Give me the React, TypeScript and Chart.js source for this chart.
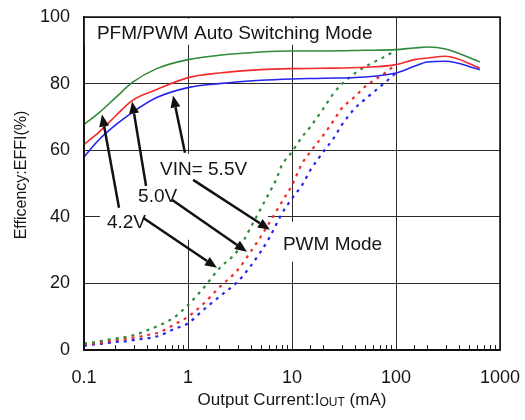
import React, { useEffect, useRef } from "react";
import { Chart, registerables } from "chart.js";

Chart.register(...registerables);

// ---- data ----
const xTickLabels = ["0.1", "1", "10", "100", "1000"];
const yTickLabels = ["0", "20", "40", "60", "80", "100"];

// PFM/PWM auto switching (solid)
const autoCurrent = [0.1, 0.14, 0.2, 0.29, 0.5, 1, 2, 5, 10, 20, 50, 100, 150, 200, 300, 640];
const autoEff42 = [67.7, 71.3, 75.7, 80.3, 84.5, 87.2, 88.5, 89.5, 89.8, 89.8, 90.0, 90.2, 90.7, 91.0, 90.4, 86.5];
const autoEff50 = [61.7, 65.5, 70.2, 74.9, 78.2, 81.8, 83.2, 84.2, 84.5, 84.6, 84.9, 85.7, 87.2, 87.7, 88.2, 84.7];
const autoEff55 = [58.0, 63.2, 67.5, 71.3, 75.8, 78.8, 80.0, 81.0, 81.4, 81.6, 82.0, 83.2, 85.2, 86.5, 86.7, 84.2];

// PWM mode (dotted)
const pwmCurrent = [0.1, 0.13, 0.16, 0.2, 0.26, 0.33, 0.41, 0.54, 0.75, 1, 1.4, 2, 3, 4, 5, 6, 7, 8, 10, 12.5, 15, 20, 25, 30, 40, 50, 60, 75, 100];
const pwmEff42 = [2.0, 2.4, 3.0, 3.4, 4.0, 4.8, 6.0, 7.5, 10.0, 13.5, 18.5, 24.5, 29.8, 36.8, 42.4, 47.0, 51.0, 55.5, 59.5, 64.0, 67.0, 72.5, 77.0, 79.8, 83.0, 85.0, 86.3, 87.8, 90.0];
const pwmEff50 = [1.8, 2.0, 2.5, 2.9, 3.4, 3.9, 4.5, 5.4, 7.8, 10.0, 13.8, 18.8, 24.0, 29.5, 34.0, 38.0, 41.5, 44.5, 49.5, 56.0, 59.5, 64.5, 68.8, 72.5, 76.0, 79.0, 80.8, 82.8, 85.7];
const pwmEff55 = [1.3, 1.7, 2.0, 2.4, 2.7, 3.2, 3.5, 4.4, 6.4, 8.0, 12.0, 16.0, 20.5, 25.2, 29.5, 33.5, 37.5, 41.0, 45.5, 49.5, 54.0, 59.5, 63.5, 67.5, 72.5, 75.2, 77.3, 79.8, 83.2];

// ---- annotations (data coordinates) ----
const whiteBoxes = [
  { x0: 0.101, x1: 87, y0: 99.5, y1: 91.7 },
  { x0: 0.1426, x1: 5.87, y0: 58.9, y1: 33.1 },
  { x0: 6.14, x1: 91, y0: 38.5, y1: 26.5 },
];
const labels = [
  { text: "PFM/PWM Auto Switching Mode", x: 0.133, y: 93.5 },
  { text: "VIN= 5.5V", x: 0.538, y: 52.6 },
  { text: "5.0V", x: 0.331, y: 44.5 },
  { text: "4.2V", x: 0.166, y: 36.7 },
  { text: "PWM Mode", x: 8.18, y: 30.1 },
];
const arrows = [
  { x0: 0.935, y0: 59.2, x1: 0.718, y1: 76.4 },
  { x0: 0.395, y0: 49.3, x1: 0.29, y1: 74.6 },
  { x0: 0.217, y0: 42.7, x1: 0.149, y1: 70.7 },
  { x0: 1.12, y0: 51.1, x1: 6.14, y1: 36.1 },
  { x0: 0.7, y0: 45.1, x1: 3.69, y1: 29.5 },
  { x0: 0.369, y0: 39.7, x1: 1.9, y1: 24.7 },
];

const FONT = "'Liberation Sans', Arial, sans-serif";
const GREEN = "#2f8a3a";
const RED = "#f22a2a";
const BLUE = "#2424ee";

const toXY = (xs: number[], ys: number[]) => xs.map((x, i) => ({ x, y: ys[i] }));
const isDecade = (v: number) => Math.abs(Math.log10(v) - Math.round(Math.log10(v))) < 1e-6;

const annotatePlugin = {
  id: "annotate",
  beforeDatasetsDraw(chart: any) {
    const { ctx, chartArea, scales } = chart;
    const x = scales.x;
    const y = scales.y;
    ctx.save();
    ctx.fillStyle = "#ffffff";
    for (const b of whiteBoxes) {
      const a = x.getPixelForValue(b.x0);
      const c = x.getPixelForValue(b.x1);
      const d = y.getPixelForValue(b.y0);
      const e = y.getPixelForValue(b.y1);
      ctx.fillRect(Math.min(a, c), Math.min(d, e), Math.abs(c - a), Math.abs(e - d));
    }
    // minor ticks inside bottom axis
    ctx.strokeStyle = "#222";
    ctx.lineWidth = 1;
    for (const t of x.ticks) {
      if (isDecade(t.value)) continue;
      const px = Math.round(x.getPixelForValue(t.value)) + 0.5;
      ctx.beginPath();
      ctx.moveTo(px, chartArea.bottom);
      ctx.lineTo(px, chartArea.bottom - 5);
      ctx.stroke();
    }
    ctx.restore();
  },
  afterDatasetsDraw(chart: any) {
    const { ctx, chartArea, scales } = chart;
    const x = scales.x;
    const y = scales.y;
    ctx.save();
    // labels
    ctx.fillStyle = "#151515";
    ctx.font = `19px ${FONT}`;
    ctx.textAlign = "left";
    ctx.textBaseline = "alphabetic";
    for (const l of labels) {
      ctx.fillText(l.text, x.getPixelForValue(l.x), y.getPixelForValue(l.y));
    }
    // arrows
    ctx.strokeStyle = "#111";
    ctx.fillStyle = "#111";
    ctx.lineWidth = 2.5;
    for (const a of arrows) {
      const sx = x.getPixelForValue(a.x0);
      const sy = y.getPixelForValue(a.y0);
      const ex = x.getPixelForValue(a.x1);
      const ey = y.getPixelForValue(a.y1);
      const ang = Math.atan2(ey - sy, ex - sx);
      const hl = 12;
      const hw = 5;
      const bx = ex - hl * Math.cos(ang);
      const by = ey - hl * Math.sin(ang);
      ctx.beginPath();
      ctx.moveTo(sx, sy);
      ctx.lineTo(bx, by);
      ctx.stroke();
      ctx.beginPath();
      ctx.moveTo(ex, ey);
      ctx.lineTo(bx + hw * Math.sin(ang), by - hw * Math.cos(ang));
      ctx.lineTo(bx - hw * Math.sin(ang), by + hw * Math.cos(ang));
      ctx.closePath();
      ctx.fill();
    }
    // frame
    ctx.strokeStyle = "#111";
    ctx.lineWidth = 1.5;
    ctx.strokeRect(chartArea.left, chartArea.top, chartArea.right - chartArea.left, chartArea.bottom - chartArea.top);
    ctx.restore();
  },
  afterDraw(chart: any) {
    const { ctx, chartArea } = chart;
    ctx.save();
    ctx.fillStyle = "#151515";
    ctx.textBaseline = "alphabetic";
    // x title with subscript OUT
    const p1 = "Output Current:I";
    const p2 = "OUT";
    const p3 = " (mA)";
    ctx.font = `17px ${FONT}`;
    const w1 = ctx.measureText(p1).width;
    const w3 = ctx.measureText(p3).width;
    ctx.font = `12px ${FONT}`;
    const w2 = ctx.measureText(p2).width;
    const total = w1 + w2 + w3;
    let cx = (chartArea.left + chartArea.right) / 2 - total / 2;
    const by = 405;
    ctx.font = `17px ${FONT}`;
    ctx.fillText(p1, cx, by);
    cx += w1;
    ctx.font = `12px ${FONT}`;
    ctx.fillText(p2, cx, by + 1);
    cx += w2;
    ctx.font = `17px ${FONT}`;
    ctx.fillText(p3, cx, by);
    // y title
    ctx.translate(22, 175);
    ctx.rotate(-Math.PI / 2);
    ctx.textAlign = "center";
    ctx.textBaseline = "middle";
    ctx.font = `16px ${FONT}`;
    ctx.fillText("Efficency:EFFI(%)", 0, 0);
    ctx.restore();
  },
};

const zeroPad = (s: any) => {
  s.paddingLeft = 0;
  s.paddingRight = 0;
  s.paddingTop = 0;
  s.paddingBottom = 0;
};

export default function App() {
  const ref = useRef<HTMLCanvasElement | null>(null);
  useEffect(() => {
    if (!ref.current) return;
    const solid = (data: any, color: string) => ({
      data,
      borderColor: color,
      backgroundColor: color,
      borderWidth: 1.6,
      pointRadius: 0,
      cubicInterpolationMode: "monotone" as const,
      fill: false,
    });
    const dotted = (data: any, color: string) => ({
      data,
      borderColor: color,
      backgroundColor: color,
      borderWidth: 2.2,
      borderDash: [3, 5],
      pointRadius: 0,
      cubicInterpolationMode: "monotone" as const,
      fill: false,
    });
    const chart = new Chart(ref.current, {
      type: "line",
      data: {
        datasets: [
          solid(toXY(autoCurrent, autoEff42), GREEN),
          solid(toXY(autoCurrent, autoEff50), RED),
          solid(toXY(autoCurrent, autoEff55), BLUE),
          dotted(toXY(pwmCurrent, pwmEff42), GREEN),
          dotted(toXY(pwmCurrent, pwmEff50), RED),
          dotted(toXY(pwmCurrent, pwmEff55), BLUE),
        ],
      },
      options: {
        animation: false,
        responsive: true,
        maintainAspectRatio: false,
        layout: { padding: { top: 17, right: 25, left: 0, bottom: 0 } },
        plugins: { legend: { display: false }, tooltip: { enabled: false } },
        scales: {
          x: {
            type: "logarithmic",
            min: 0.1,
            max: 1000,
            afterFit: (s: any) => {
              s.height = 70;
              zeroPad(s);
            },
            border: { display: true, color: "#111", width: 1.5 },
            grid: {
              drawTicks: false,
              lineWidth: 1,
              color: (c: any) => (c.tick && isDecade(c.tick.value) ? "#2a2a2a" : "rgba(0,0,0,0)"),
            },
            ticks: {
              autoSkip: false,
              maxRotation: 0,
              padding: 17,
              color: "#151515",
              font: { family: FONT, size: 18 },
              callback: (v: any) => {
                const s = String(Number(v));
                if (xTickLabels.includes(s)) return s;
                return isDecade(Number(v)) ? xTickLabels[Math.round(Math.log10(Number(v))) + 1] : "";
              },
            },
          },
          y: {
            min: 0,
            max: 100,
            afterFit: (s: any) => {
              s.width = 84;
              zeroPad(s);
            },
            border: { display: true, color: "#111", width: 1.5 },
            grid: { drawTicks: false, color: "#2a2a2a", lineWidth: 1 },
            ticks: {
              stepSize: 20,
              padding: 14,
              color: "#151515",
              font: { family: FONT, size: 18 },
              callback: (v: any) => yTickLabels[Math.round(Number(v) / 20)] ?? "",
            },
          },
        },
      },
      plugins: [annotatePlugin],
    });
    return () => chart.destroy();
  }, []);
  return (
    <div style={{ position: "absolute", left: 0, top: 0, width: 525, height: 420, background: "#fff" }}>
      <canvas ref={ref} />
    </div>
  );
}
